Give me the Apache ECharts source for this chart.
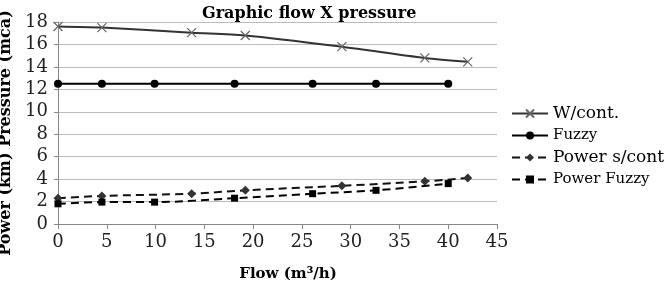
<!DOCTYPE html>
<html>
<head>
<meta charset="utf-8">
<script src="https://cdn.jsdelivr.net/npm/echarts@6/dist/echarts.min.js"></script>
<style>
  html, body { margin: 0; padding: 0; background: #fff; }
  #chart { width: 665px; height: 282px; }
</style>
</head>
<body>
<div id="chart"></div>
<script>
// flow (m3/h) for each series
const flowCont = [0, 4.5, 13.7, 19.2, 29.1, 37.6, 42.0]
const flowFuzzy = [0, 4.5, 9.9, 18.1, 26.1, 32.6, 40.0]

const pressureCont = [17.6, 17.5, 17.05, 16.8, 15.8, 14.8, 14.45]
const pressureFuzzy = [12.5, 12.5, 12.5, 12.5, 12.5, 12.5, 12.5]
const powerCont = [2.3, 2.5, 2.7, 3.0, 3.4, 3.8, 4.1]
const powerFuzzy = [1.8, 1.95, 1.95, 2.3, 2.7, 3.0, 3.6]

const seriesNames = ['W/cont.', 'Fuzzy', 'Power s/cont', 'Power Fuzzy']

const pair = (xs, ys) => xs.map((x, i) => [x, ys[i]])
const serif = '"DejaVu Serif", "Liberation Serif", serif'

const chart = echarts.init(document.getElementById('chart'))
chart.setOption({
  animation: false,
  textStyle: { fontFamily: serif },
  title: {
    text: 'Graphic flow X pressure',
    left: 197,
    top: 1,
    textStyle: { fontFamily: serif, fontWeight: 'bold', fontSize: 16, color: '#000' },
  },
  grid: { left: 58, right: 168, top: 22, bottom: 58, outerBoundsMode: 'none' },
  legend: {
    orient: 'vertical',
    left: 506,
    top: 100,
    itemGap: 6,
    itemWidth: 36,
    itemHeight: 10,
    data: seriesNames,
    formatter: (name) => (name === 'Fuzzy' || name === 'Power Fuzzy') ? '{s|' + name + '}' : '{b|' + name + '}',
    textStyle: {
      color: '#000',
      fontFamily: serif,
      rich: {
        b: { fontSize: 17, fontFamily: serif, color: '#000', height: 19 },
        s: { fontSize: 15, fontFamily: serif, color: '#000', height: 19 },
      },
    },
  },
  xAxis: {
    type: 'value',
    min: 0,
    max: 45,
    interval: 5,
    name: 'Flow (m³/h)',
    nameLocation: 'middle',
    nameGap: 43,
    nameTextStyle: { fontFamily: serif, fontWeight: 'bold', fontSize: 15, color: '#000', padding: [0, 0, 0, 21] },
    axisLine: { lineStyle: { color: '#888' } },
    axisTick: { show: true, length: 5, lineStyle: { color: '#888' } },
    axisLabel: { color: '#222', fontSize: 18, fontFamily: serif, margin: 9 },
    splitLine: { show: false },
  },
  yAxis: {
    type: 'value',
    min: 0,
    max: 18,
    interval: 2,
    name: 'Power (km) Pressure (mca)',
    nameLocation: 'middle',
    nameGap: 40,
    nameTextStyle: { fontFamily: serif, fontWeight: 'bold', fontSize: 16, color: '#000', padding: [0, 20, 0, 0] },
    axisLine: { show: true, lineStyle: { color: '#888' } },
    axisTick: { show: true, length: 4, lineStyle: { color: '#888' } },
    axisLabel: { color: '#222', fontSize: 18, fontFamily: serif, margin: 10 },
    splitLine: { lineStyle: { color: '#bbb', width: 1 } },
  },
  series: [
    {
      name: seriesNames[0],
      type: 'line',
      smooth: 0.3,
      data: pair(flowCont, pressureCont),
      symbol: 'path://M0,0 L10,10 M10,0 L0,10',
      symbolSize: 9,
      lineStyle: { color: '#333', width: 2 },
      itemStyle: { color: '#666', borderColor: '#666', borderWidth: 1.2 },
    },
    {
      name: seriesNames[1],
      type: 'line',
      data: pair(flowFuzzy, pressureFuzzy),
      symbol: 'circle',
      symbolSize: 8,
      lineStyle: { color: '#000', width: 2 },
      itemStyle: { color: '#000' },
    },
    {
      name: seriesNames[2],
      type: 'line',
      smooth: 0.3,
      data: pair(flowCont, powerCont),
      symbol: 'diamond',
      symbolSize: 9,
      lineStyle: { color: '#111', width: 2, type: [8, 5] },
      itemStyle: { color: '#333' },
    },
    {
      name: seriesNames[3],
      type: 'line',
      smooth: 0.3,
      data: pair(flowFuzzy, powerFuzzy),
      symbol: 'rect',
      symbolSize: 7,
      lineStyle: { color: '#000', width: 2, type: [8, 5] },
      itemStyle: { color: '#000' },
    },
  ],
})
</script>
</body>
</html>
